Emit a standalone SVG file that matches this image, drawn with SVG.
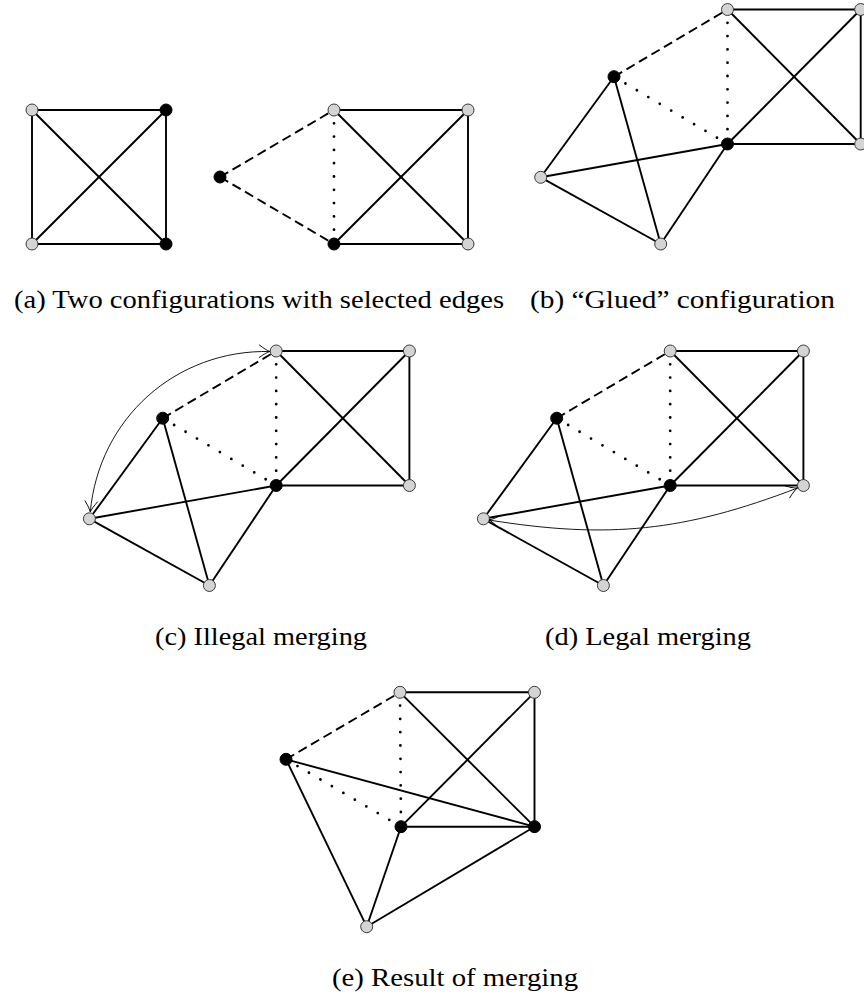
<svg xmlns="http://www.w3.org/2000/svg" width="864" height="1005" viewBox="0 0 864 1005">
<style>
.e{stroke:#000;stroke-width:1.9;fill:none}
.da{stroke-dasharray:9.5 5}
.do{stroke-dasharray:0 13.3;stroke-linecap:round;stroke-width:2.8}
.g{fill:#d4d4d4;stroke:#3a3a3a;stroke-width:1}
.b{fill:#000;stroke:#000;stroke-width:1}
.arc{stroke:#000;stroke-width:0.9;fill:none;marker-start:url(#ah);marker-end:url(#ah)}
.cap{font-family:"Liberation Serif","DejaVu Serif",serif;font-size:25px;fill:#000}
</style>
<defs>
<marker id="ah" viewBox="-13 -8 15 16" refX="0" refY="0" markerWidth="15" markerHeight="16" markerUnits="userSpaceOnUse" orient="auto-start-reverse">
<path d="M-11,-6.5 Q-4,-1.2 0,0 Q-4,1.2 -11,6.5" fill="none" stroke="#000" stroke-width="0.9"/>
</marker>
</defs>
<rect width="864" height="1005" fill="#fff"/>

<!-- Panel (a) left -->
<g id="panel-a1">
<g id="conn-a1">
<line class="e" x1="32" y1="110" x2="166" y2="110"/>
<line class="e" x1="32" y1="244" x2="166" y2="244"/>
<line class="e" x1="32" y1="110" x2="32" y2="244"/>
<line class="e" x1="166" y1="110" x2="166" y2="244"/>
<line class="e" x1="32" y1="110" x2="166" y2="244"/>
<line class="e" x1="32" y1="244" x2="166" y2="110"/>
</g>
<g id="a1-n1"><circle class="g" cx="32" cy="110" r="6"/></g>
<g id="a1-n2"><circle class="b" cx="166" cy="110" r="6"/></g>
<g id="a1-n3"><circle class="g" cx="32" cy="244" r="6"/></g>
<g id="a1-n4"><circle class="b" cx="166" cy="244" r="6"/></g>
</g>

<!-- Panel (a) right -->
<g id="panel-a2">
<g id="conn-a2">
<line class="e da" x1="220" y1="177" x2="334" y2="110"/>
<line class="e da" x1="220" y1="177" x2="334" y2="244"/>
<line class="e do" x1="334" y1="110" x2="334" y2="244"/>
<line class="e" x1="334" y1="110" x2="468" y2="110"/>
<line class="e" x1="334" y1="244" x2="468" y2="244"/>
<line class="e" x1="468" y1="110" x2="468" y2="244"/>
<line class="e" x1="334" y1="110" x2="468" y2="244"/>
<line class="e" x1="334" y1="244" x2="468" y2="110"/>
</g>
<g id="a2-n0"><circle class="b" cx="220" cy="177" r="6"/></g>
<g id="a2-n1"><circle class="g" cx="334" cy="110" r="6"/></g>
<g id="a2-n2"><circle class="g" cx="468" cy="110" r="6"/></g>
<g id="a2-n3"><circle class="b" cx="334" cy="244" r="6"/></g>
<g id="a2-n4"><circle class="g" cx="468" cy="244" r="6"/></g>
</g>

<!-- Panel (b) -->
<g id="panel-b">
<g id="conn-b">
<line class="e" x1="727.5" y1="9.5" x2="860.7" y2="9.5"/>
<line class="e" x1="860.7" y1="9.5" x2="860.7" y2="144"/>
<line class="e" x1="727.5" y1="9.5" x2="860.7" y2="144"/>
<line class="e" x1="727.5" y1="144" x2="860.7" y2="9.5"/>
<line class="e" x1="727.5" y1="144" x2="860.7" y2="144"/>
<line class="e da" x1="614" y1="76.7" x2="727.5" y2="9.5"/>
<line class="e do" x1="727.5" y1="9.5" x2="727.5" y2="144"/>
<line class="e do" x1="614" y1="76.7" x2="727.5" y2="144"/>
<line class="e" x1="614" y1="76.7" x2="540.7" y2="177.3"/>
<line class="e" x1="614" y1="76.7" x2="660.7" y2="244"/>
<line class="e" x1="540.7" y1="177.3" x2="727.5" y2="144"/>
<line class="e" x1="540.7" y1="177.3" x2="660.7" y2="244"/>
<line class="e" x1="660.7" y1="244" x2="727.5" y2="144"/>
</g>
<g id="b-t"><circle class="g" cx="727.5" cy="9.5" r="6"/></g>
<g id="b-tr"><circle class="g" cx="860.7" cy="9.5" r="6"/></g>
<g id="b-k1"><circle class="b" cx="614" cy="76.7" r="6"/></g>
<g id="b-k2"><circle class="b" cx="727.5" cy="144" r="6"/></g>
<g id="b-br"><circle class="g" cx="860.7" cy="144" r="6"/></g>
<g id="b-l"><circle class="g" cx="540.7" cy="177.3" r="6"/></g>
<g id="b-bo"><circle class="g" cx="660.7" cy="244" r="6"/></g>
</g>

<!-- Panel (c) -->
<g id="panel-c" transform="translate(-451.3,341.5)">
<g id="conn-c">
<line class="e" x1="727.5" y1="9.5" x2="860.7" y2="9.5"/>
<line class="e" x1="860.7" y1="9.5" x2="860.7" y2="144"/>
<line class="e" x1="727.5" y1="9.5" x2="860.7" y2="144"/>
<line class="e" x1="727.5" y1="144" x2="860.7" y2="9.5"/>
<line class="e" x1="727.5" y1="144" x2="860.7" y2="144"/>
<line class="e da" x1="614" y1="76.7" x2="727.5" y2="9.5"/>
<line class="e do" x1="727.5" y1="9.5" x2="727.5" y2="144"/>
<line class="e do" x1="614" y1="76.7" x2="727.5" y2="144"/>
<line class="e" x1="614" y1="76.7" x2="540.7" y2="177.3"/>
<line class="e" x1="614" y1="76.7" x2="660.7" y2="244"/>
<line class="e" x1="540.7" y1="177.3" x2="727.5" y2="144"/>
<line class="e" x1="540.7" y1="177.3" x2="660.7" y2="244"/>
<line class="e" x1="660.7" y1="244" x2="727.5" y2="144"/>
</g>
<g id="c-t"><circle class="g" cx="727.5" cy="9.5" r="6"/></g>
<g id="c-tr"><circle class="g" cx="860.7" cy="9.5" r="6"/></g>
<g id="c-k1"><circle class="b" cx="614" cy="76.7" r="6"/></g>
<g id="c-k2"><circle class="b" cx="727.5" cy="144" r="6"/></g>
<g id="c-br"><circle class="g" cx="860.7" cy="144" r="6"/></g>
<g id="c-l"><circle class="g" cx="540.7" cy="177.3" r="6"/></g>
<g id="c-bo"><circle class="g" cx="660.7" cy="244" r="6"/></g>
</g>

<!-- Panel (d) -->
<g id="panel-d" transform="translate(-57.3,341.5)">
<g id="conn-d">
<line class="e" x1="727.5" y1="9.5" x2="860.7" y2="9.5"/>
<line class="e" x1="860.7" y1="9.5" x2="860.7" y2="144"/>
<line class="e" x1="727.5" y1="9.5" x2="860.7" y2="144"/>
<line class="e" x1="727.5" y1="144" x2="860.7" y2="9.5"/>
<line class="e" x1="727.5" y1="144" x2="860.7" y2="144"/>
<line class="e da" x1="614" y1="76.7" x2="727.5" y2="9.5"/>
<line class="e do" x1="727.5" y1="9.5" x2="727.5" y2="144"/>
<line class="e do" x1="614" y1="76.7" x2="727.5" y2="144"/>
<line class="e" x1="614" y1="76.7" x2="540.7" y2="177.3"/>
<line class="e" x1="614" y1="76.7" x2="660.7" y2="244"/>
<line class="e" x1="540.7" y1="177.3" x2="727.5" y2="144"/>
<line class="e" x1="540.7" y1="177.3" x2="660.7" y2="244"/>
<line class="e" x1="660.7" y1="244" x2="727.5" y2="144"/>
</g>
<g id="d-t"><circle class="g" cx="727.5" cy="9.5" r="6"/></g>
<g id="d-tr"><circle class="g" cx="860.7" cy="9.5" r="6"/></g>
<g id="d-k1"><circle class="b" cx="614" cy="76.7" r="6"/></g>
<g id="d-k2"><circle class="b" cx="727.5" cy="144" r="6"/></g>
<g id="d-br"><circle class="g" cx="860.7" cy="144" r="6"/></g>
<g id="d-l"><circle class="g" cx="540.7" cy="177.3" r="6"/></g>
<g id="d-bo"><circle class="g" cx="660.7" cy="244" r="6"/></g>
</g>

<!-- merge arrows -->
<g id="merge-arrows">
<path class="arc" d="M270,351.5 C175.9,349.5 98.9,418.3 90.3,512"/>
<path class="arc" d="M489,520 C608.5,539.3 684,531.5 797.5,488"/>
</g>

<!-- Panel (e) -->
<g id="panel-e">
<g id="conn-e">
<line class="e" x1="400" y1="692.3" x2="534.5" y2="692.3"/>
<line class="e" x1="534.5" y1="692.3" x2="534.5" y2="826.7"/>
<line class="e" x1="400" y1="692.3" x2="534.5" y2="826.7"/>
<line class="e" x1="401" y1="826.7" x2="534.5" y2="692.3"/>
<line class="e" x1="401" y1="826.7" x2="534.5" y2="826.7"/>
<line class="e da" x1="286" y1="759.3" x2="400" y2="692.3"/>
<line class="e do" x1="400" y1="692.3" x2="401" y2="826.7"/>
<line class="e do" x1="286" y1="759.3" x2="401" y2="826.7"/>
<line class="e" x1="286" y1="759.3" x2="534.5" y2="826.7"/>
<line class="e" x1="286" y1="759.3" x2="366.7" y2="926.7"/>
<line class="e" x1="366.7" y1="926.7" x2="401" y2="826.7"/>
<line class="e" x1="366.7" y1="926.7" x2="534.5" y2="826.7"/>
</g>
<g id="e-t"><circle class="g" cx="400" cy="692.3" r="6"/></g>
<g id="e-tr"><circle class="g" cx="534.5" cy="692.3" r="6"/></g>
<g id="e-k1"><circle class="b" cx="286" cy="759.3" r="6"/></g>
<g id="e-k2"><circle class="b" cx="401" cy="826.7" r="6"/></g>
<g id="e-k3"><circle class="b" cx="534.5" cy="826.7" r="6"/></g>
<g id="e-bo"><circle class="g" cx="366.7" cy="926.7" r="6"/></g>
</g>

<!-- captions -->
<g id="captions">
<text class="cap" x="14" y="308" textLength="490" lengthAdjust="spacingAndGlyphs">(a) Two configurations with selected edges</text>
<text class="cap" x="530" y="308" textLength="305" lengthAdjust="spacingAndGlyphs">(b) “Glued” configuration</text>
<text class="cap" x="155" y="645" textLength="212" lengthAdjust="spacingAndGlyphs">(c) Illegal merging</text>
<text class="cap" x="545" y="645" textLength="206" lengthAdjust="spacingAndGlyphs">(d) Legal merging</text>
<text class="cap" x="332" y="986" textLength="246" lengthAdjust="spacingAndGlyphs">(e) Result of merging</text>
</g>
</svg>
